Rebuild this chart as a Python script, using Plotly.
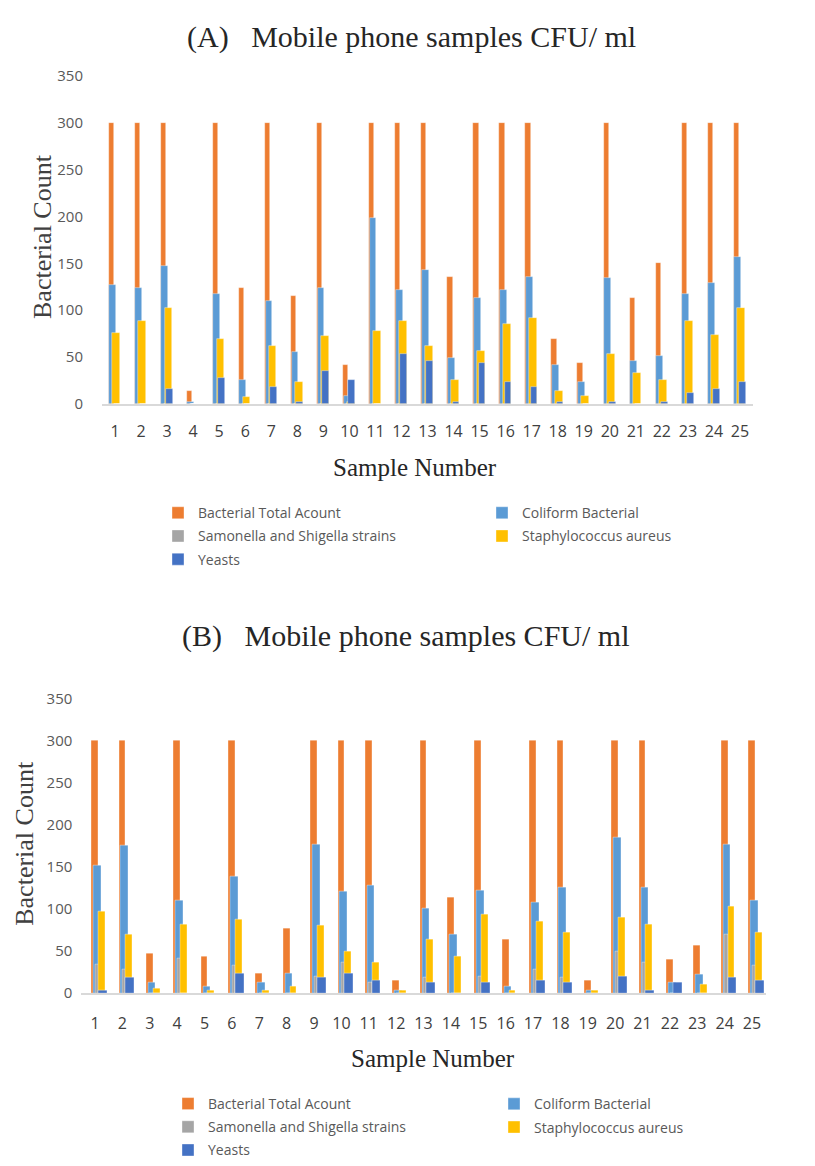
import plotly.graph_objects as go

samples = [str(i) for i in range(1, 26)]
series_names = ["Bacterial Total Acount", "Coliform Bacterial", "Samonella and Shigella strains",
                "Staphylococcus aureus", "Yeasts"]
colors = ["#ED7D31", "#5B9BD5", "#A5A5A5", "#FFC000", "#4472C4"]

# Chart A values (CFU/ml)
a_total = [300, 300, 300, 14, 300, 124, 300, 115, 300, 42, 300, 300, 300, 136, 300, 300, 300, 69, 44, 300, 113, 150, 300, 300, 300]
a_coliform = [127, 124, 147, 2, 117, 26, 110, 55, 124, 9, 198, 122, 143, 49, 113, 122, 136, 42, 23, 134, 46, 51, 117, 129, 157]
a_salmonella = [0] * 25
a_staph = [76, 88, 102, 0, 69, 7, 62, 23, 72, 2, 78, 88, 62, 26, 57, 85, 92, 14, 9, 53, 33, 26, 88, 74, 102]
a_yeasts = [0, 0, 16, 0, 28, 0, 18, 2, 35, 26, 0, 53, 46, 2, 44, 23, 18, 2, 0, 2, 0, 2, 12, 16, 23]

# Chart B values (CFU/ml)
b_total = [300, 300, 47, 300, 44, 300, 23, 77, 300, 300, 300, 15, 300, 113, 300, 64, 300, 300, 15, 300, 300, 40, 56, 300, 300]
b_coliform = [151, 175, 13, 110, 8, 138, 13, 23, 177, 121, 128, 3, 100, 70, 122, 8, 108, 126, 3, 185, 126, 13, 22, 177, 110]
b_salmonella = [34, 28, 0, 41, 0, 33, 0, 0, 20, 36, 13, 0, 18, 0, 20, 0, 28, 18, 0, 49, 36, 0, 0, 69, 33]
b_staph = [97, 69, 5, 82, 3, 87, 3, 8, 80, 49, 36, 3, 64, 44, 93, 3, 85, 72, 3, 90, 82, 0, 10, 103, 72]
b_yeasts = [3, 18, 0, 0, 0, 23, 0, 0, 18, 23, 15, 0, 13, 0, 13, 0, 15, 13, 0, 20, 3, 13, 0, 18, 15]

y_ticks = [0, 50, 100, 150, 200, 250, 300, 350]

# page is offset by the default 8px body margin
M = 8
W, H = 815 - M, 1166 - M

def px(p):
    return (p - M) / W

def py(p):
    return 1 - (p - M) / H

fig = go.Figure()

a_series = [a_total, a_coliform, a_salmonella, a_staph, a_yeasts]
b_series = [b_total, b_coliform, b_salmonella, b_staph, b_yeasts]
a_off = [(-0.24, 0.2), (-0.22, 0.26), (-0.12, 0.16), (-0.10, 0.30), (-0.04, 0.26)]
b_off = [(-0.13, 0.25), (-0.06, 0.28), (0.0, 0.14), (0.12, 0.25), (0.12, 0.32)]
legA = ["legend", "legend2", "legend", "legend2", "legend"]
legB = ["legend3", "legend4", "legend3", "legend4", "legend3"]

for i in range(5):
    fig.add_trace(go.Bar(x=list(range(1, 26)), y=a_series[i], name=series_names[i],
                         marker=dict(color=colors[i], line=dict(color="rgba(255,255,255,0.6)", width=0.6)),
                         offset=a_off[i][0], width=a_off[i][1], xaxis="x", yaxis="y",
                         legend=legA[i], legendgroup="a%d" % i))
for i in range(5):
    fig.add_trace(go.Bar(x=list(range(1, 26)), y=b_series[i], name=series_names[i],
                         marker=dict(color=colors[i], line=dict(color="rgba(255,255,255,0.6)", width=0.6)),
                         offset=b_off[i][0], width=b_off[i][1], xaxis="x2", yaxis="y2",
                         legend=legB[i], legendgroup="b%d" % i))

tickfont_y = dict(family="Open Sans, Liberation Sans, sans-serif", size=15, color="#595959")
tickfont_x = dict(family="Open Sans, Liberation Sans, sans-serif", size=16, color="#404040")

fig.update_layout(
    width=W, height=H, margin=dict(l=0, r=0, t=0, b=0),
    paper_bgcolor="white", plot_bgcolor="white",
    barmode="overlay", bargap=0,
    xaxis=dict(domain=[px(102), px(753)], range=[0.5, 25.5], tickvals=list(range(1, 26)), ticktext=samples,
               showgrid=False, showline=True, linecolor="#D9D9D9", linewidth=1.5, ticks="",
               tickfont=tickfont_x, ticklabelstandoff=12, anchor="y", zeroline=False),
    yaxis=dict(domain=[py(400), py(66)], range=[0, 350], tickvals=y_ticks, showgrid=False,
               showline=False, ticks="", tickfont=tickfont_y, ticklabelstandoff=18, anchor="x", zeroline=False),
    xaxis2=dict(domain=[px(81.3), px(765.7)], range=[0.5, 25.5], tickvals=list(range(1, 26)), ticktext=samples,
                showgrid=False, showline=True, linecolor="#D9D9D9", linewidth=1.5, ticks="",
                tickfont=tickfont_x, ticklabelstandoff=15, anchor="y2", zeroline=False),
    yaxis2=dict(domain=[py(1000), py(700)], range=[0, 350], tickvals=y_ticks, showgrid=False,
                showline=False, ticks="", tickfont=tickfont_y, ticklabelstandoff=8, anchor="x2", zeroline=False),
)

legfont = dict(family="Open Sans, Liberation Sans, sans-serif", size=14, color="#595959")
common = dict(orientation="v", font=legfont, bgcolor="rgba(0,0,0,0)", tracegroupgap=2,
              xanchor="left", yanchor="top", itemclick=False)
fig.update_layout(
    legend=dict(x=px(158), y=py(495), **common),
    legend2=dict(x=px(482), y=py(495), **common),
    legend3=dict(x=px(168), y=py(1097), **common),
    legend4=dict(x=px(494), y=py(1097), **common),
)

serif = "Liberation Serif, Times New Roman, serif"
annos = [
    dict(text="(A)&nbsp;&nbsp; Mobile phone samples CFU/ ml", x=411, y=26, size=30),
    dict(text="(B)&nbsp;&nbsp; Mobile phone samples CFU/ ml", x=405, y=636, size=30),
    dict(text="Sample Number", x=415, y=465, size=25),
    dict(text="Sample Number", x=433, y=1067, size=25),
]
for a in annos:
    fig.add_annotation(text=a["text"], x=px(a["x"]), y=py(a["y"]), xref="paper", yref="paper",
                       xanchor="center", yanchor="middle", showarrow=False,
                       font=dict(family=serif, size=a["size"], color="#262626"))
for xc, yc in [(43, 230), (25, 848)]:
    fig.add_annotation(text="Bacterial Count", x=px(xc), y=py(yc), xref="paper", yref="paper",
                       xanchor="center", yanchor="middle", showarrow=False, textangle=-90,
                       font=dict(family=serif, size=26, color="#404040"))

fig.write_html("out.html")
